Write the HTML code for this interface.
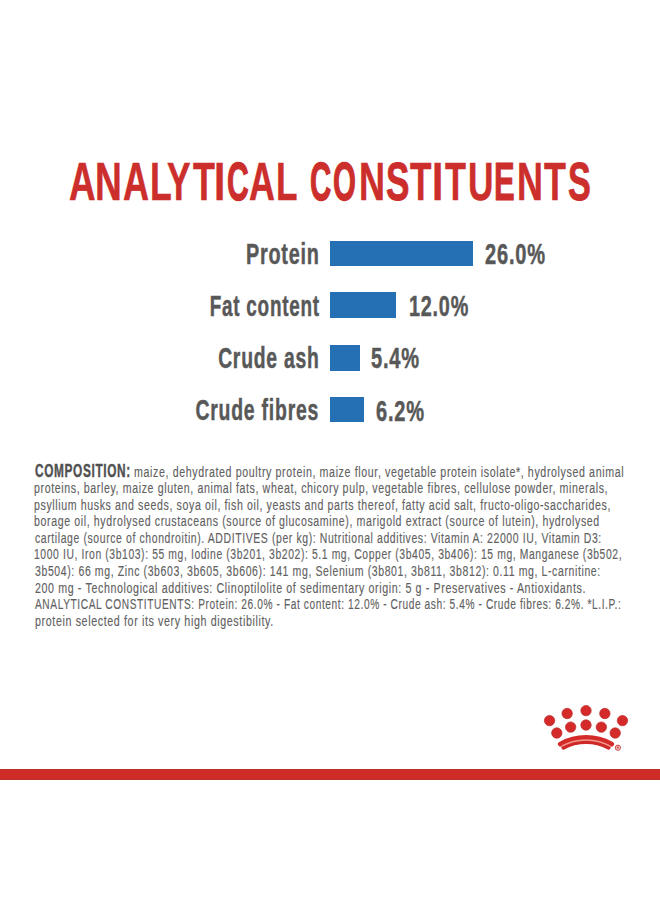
<!DOCTYPE html>
<html>
<head>
<meta charset="utf-8">
<style>
html,body{margin:0;padding:0;background:#fff;}
body{width:660px;height:900px;position:relative;overflow:hidden;font-family:"Liberation Sans",sans-serif;}
.t{position:absolute;white-space:nowrap;line-height:1;}
.s{display:inline-block;transform-origin:0 0;}
.r .s{transform-origin:100% 0;}
.tt,#title{color:#cc2e2c;font-weight:bold;letter-spacing:0px;-webkit-text-stroke:0.5px #cc2e2c;}
.lab{color:#585858;font-weight:bold;font-size:30px;letter-spacing:1.2px;-webkit-text-stroke:0.5px #585858;}
.bar{position:absolute;background:#2570b4;left:330px;}
.comp{color:#616161;font-size:15.5px;letter-spacing:0.9px;-webkit-text-stroke:0.15px #616161;}
#c1a{color:#505050;font-weight:bold;font-size:18px;letter-spacing:1.0px;-webkit-text-stroke:0.4px #505050;}
</style>
</head>
<body>
<div class="t tt" id="tl0" style="left:69.05px;top:154.9px;font-size:53.5px;"><span class="s" style="transform:scaleX(0.6878)">A</span></div>
<div class="t tt" id="tl1" style="left:95.15px;top:154.9px;font-size:53.5px;"><span class="s" style="transform:scaleX(0.6944)">N</span></div>
<div class="t tt" id="tl2" style="left:122.73px;top:154.9px;font-size:53.5px;"><span class="s" style="transform:scaleX(0.6741)">A</span></div>
<div class="t tt" id="tl3" style="left:150.04px;top:154.9px;font-size:53.5px;"><span class="s" style="transform:scaleX(0.6657)">L</span></div>
<div class="t tt" id="tl4" style="left:167.25px;top:154.9px;font-size:53.5px;"><span class="s" style="transform:scaleX(0.6595)">Y</span></div>
<div class="t tt" id="tl5" style="left:192.84px;top:154.9px;font-size:53.5px;"><span class="s" style="transform:scaleX(0.671)">T</span></div>
<div class="t tt" id="tl6" style="left:214.37px;top:154.9px;font-size:53.5px;"><span class="s" style="transform:scaleX(0.761)">I</span></div>
<div class="t tt" id="tl7" style="left:226.61px;top:154.9px;font-size:53.5px;-webkit-text-stroke-width:1.3px;"><span class="s" style="transform:scaleX(0.5615)">C</span></div>
<div class="t tt" id="tl8" style="left:249.33px;top:154.9px;font-size:53.5px;"><span class="s" style="transform:scaleX(0.6707)">A</span></div>
<div class="t tt" id="tl9" style="left:276.45px;top:154.9px;font-size:53.5px;"><span class="s" style="transform:scaleX(0.6584)">L</span></div>
<div class="t tt" id="tl10" style="left:309.74px;top:154.9px;font-size:53.5px;-webkit-text-stroke-width:1.3px;"><span class="s" style="transform:scaleX(0.5491)">C</span></div>
<div class="t tt" id="tl11" style="left:333.35px;top:154.9px;font-size:53.5px;-webkit-text-stroke-width:1.3px;"><span class="s" style="transform:scaleX(0.5507)">O</span></div>
<div class="t tt" id="tl12" style="left:358.58px;top:154.9px;font-size:53.5px;"><span class="s" style="transform:scaleX(0.6724)">N</span></div>
<div class="t tt" id="tl13" style="left:385.77px;top:154.9px;font-size:53.5px;-webkit-text-stroke-width:0.9px;"><span class="s" style="transform:scaleX(0.6567)">S</span></div>
<div class="t tt" id="tl14" style="left:409.64px;top:154.9px;font-size:53.5px;"><span class="s" style="transform:scaleX(0.6567)">T</span></div>
<div class="t tt" id="tl15" style="left:432.17px;top:154.9px;font-size:53.5px;"><span class="s" style="transform:scaleX(0.761)">I</span></div>
<div class="t tt" id="tl16" style="left:444.64px;top:154.9px;font-size:53.5px;"><span class="s" style="transform:scaleX(0.641)">T</span></div>
<div class="t tt" id="tl17" style="left:467.73px;top:154.9px;font-size:53.5px;"><span class="s" style="transform:scaleX(0.6605)">U</span></div>
<div class="t tt" id="tl18" style="left:494.2px;top:154.9px;font-size:53.5px;-webkit-text-stroke-width:1.0px;"><span class="s" style="transform:scaleX(0.5796)">E</span></div>
<div class="t tt" id="tl19" style="left:517.38px;top:154.9px;font-size:53.5px;"><span class="s" style="transform:scaleX(0.6723)">N</span></div>
<div class="t tt" id="tl20" style="left:544.04px;top:154.9px;font-size:53.5px;"><span class="s" style="transform:scaleX(0.671)">T</span></div>
<div class="t tt" id="tl21" style="left:567.52px;top:154.9px;font-size:53.5px;-webkit-text-stroke-width:0.9px;"><span class="s" style="transform:scaleX(0.6386)">S</span></div>
<div class="t lab r" id="l1" style="right:340.5px;top:239.0px;"><span class="s" style="transform:scaleX(0.6602)">Protein</span></div>
<div class="t lab r" id="l2" style="right:340.5px;top:291.0px;"><span class="s" style="transform:scaleX(0.6299)">Fat content</span></div>
<div class="t lab r" id="l3" style="right:340.5px;top:343.0px;"><span class="s" style="transform:scaleX(0.6435)">Crude ash</span></div>
<div class="t lab r" id="l4" style="right:340.5px;top:395.0px;"><span class="s" style="transform:scaleX(0.6468)">Crude fibres</span></div>
<div class="bar" id="b1" style="top:241px;width:143px;height:25px;"></div>
<div class="bar" id="b2" style="top:292px;width:66px;height:26px;"></div>
<div class="bar" id="b3" style="top:345px;width:30px;height:26px;"></div>
<div class="bar" id="b4" style="top:397px;width:34px;height:25px;"></div>
<div class="t lab" id="v1" style="left:485.45px;top:239.0px;"><span class="s" style="transform:scaleX(0.6682)">26.0%</span></div>
<div class="t lab" id="v2" style="left:408.6px;top:291.0px;"><span class="s" style="transform:scaleX(0.6588)">12.0%</span></div>
<div class="t lab" id="v3" style="left:371.24px;top:343.0px;"><span class="s" style="transform:scaleX(0.6677)">5.4%</span></div>
<div class="t lab" id="v4" style="left:375.51px;top:395.5px;"><span class="s" style="transform:scaleX(0.6679)">6.2%</span></div>
<div class="t" id="c1a" style="left:34.59px;top:462px;"><span class="s" style="transform:scaleX(0.6568)">COMPOSITION:</span></div>
<div class="t comp" id="c1" style="left:134.08px;top:463.7px;"><span class="s" style="transform:scaleX(0.687)">maize, dehydrated poultry protein, maize flour, vegetable protein isolate*, hydrolysed animal</span></div>
<div class="t comp" id="c2" style="left:33.96px;top:480.25px;"><span class="s" style="transform:scaleX(0.6845)">proteins, barley, maize gluten, animal fats, wheat, chicory pulp, vegetable fibres, cellulose powder, minerals,</span></div>
<div class="t comp" id="c3" style="left:33.96px;top:496.8px;"><span class="s" style="transform:scaleX(0.6833)">psyllium husks and seeds, soya oil, fish oil, yeasts and parts thereof, fatty acid salt, fructo-oligo-saccharides,</span></div>
<div class="t comp" id="c4" style="left:33.96px;top:513.35px;"><span class="s" style="transform:scaleX(0.6836)">borage oil, hydrolysed crustaceans (source of glucosamine), marigold extract (source of lutein), hydrolysed</span></div>
<div class="t comp" id="c5" style="left:34.91px;top:529.9px;"><span class="s" style="transform:scaleX(0.674)">cartilage (source of chondroitin). ADDITIVES (per kg): Nutritional additives: Vitamin A: 22000 IU, Vitamin D3:</span></div>
<div class="t comp" id="c6" style="left:34.27px;top:546.45px;"><span class="s" style="transform:scaleX(0.6687)">1000 IU, Iron (3b103): 55 mg, Iodine (3b201, 3b202): 5.1 mg, Copper (3b405, 3b406): 15 mg, Manganese (3b502,</span></div>
<div class="t comp" id="c7" style="left:34.52px;top:563.0px;"><span class="s" style="transform:scaleX(0.6777)">3b504): 66 mg, Zinc (3b603, 3b605, 3b606): 141 mg, Selenium (3b801, 3b811, 3b812): 0.11 mg, L-carnitine:</span></div>
<div class="t comp" id="c8" style="left:34.95px;top:579.55px;"><span class="s" style="transform:scaleX(0.6881)">200 mg - Technological additives: Clinoptilolite of sedimentary origin: 5 g - Preservatives - Antioxidants.</span></div>
<div class="t comp" id="c9" style="left:34.99px;top:596.1px;"><span class="s" style="transform:scaleX(0.6554)">ANALYTICAL CONSTITUENTS: Protein: 26.0% - Fat content: 12.0% - Crude ash: 5.4% - Crude fibres: 6.2%. *L.I.P.:</span></div>
<div class="t comp" id="c10" style="left:34.72px;top:612.65px;"><span class="s" style="transform:scaleX(0.6898)">protein selected for its very high digestibility.</span></div>
<svg id="logo" style="position:absolute;left:540px;top:700px;" width="90" height="60" viewBox="0 0 90 60"><circle cx="9.55" cy="20.6" r="5.2" fill="#d42a2a" stroke="#bb2a2a" stroke-width="0.7"/><circle cx="27.15" cy="13.5" r="5.2" fill="#d42a2a" stroke="#bb2a2a" stroke-width="0.7"/><circle cx="46" cy="10.6" r="5.2" fill="#d42a2a" stroke="#bb2a2a" stroke-width="0.7"/><circle cx="64.85" cy="13.5" r="5.2" fill="#d42a2a" stroke="#bb2a2a" stroke-width="0.7"/><circle cx="82.45" cy="20.6" r="5.2" fill="#d42a2a" stroke="#bb2a2a" stroke-width="0.7"/><circle cx="16.8" cy="33" r="5.2" fill="#d42a2a" stroke="#bb2a2a" stroke-width="0.7"/><circle cx="30.65" cy="27.1" r="5.2" fill="#d42a2a" stroke="#bb2a2a" stroke-width="0.7"/><circle cx="46" cy="25" r="5.2" fill="#d42a2a" stroke="#bb2a2a" stroke-width="0.7"/><circle cx="61.35" cy="27.1" r="5.2" fill="#d42a2a" stroke="#bb2a2a" stroke-width="0.7"/><circle cx="75.2" cy="33" r="5.2" fill="#d42a2a" stroke="#bb2a2a" stroke-width="0.7"/><path d="M20.42 44.07A53.1 53.1 0 0 1 71.58 44.07" fill="none" stroke="#d42a2a" stroke-width="5" stroke-linecap="round"/><path d="M23.33 47.61A48.6 48.6 0 0 1 68.67 47.61" fill="none" stroke="#cf2828" stroke-width="4" stroke-linecap="round"/><path d="M21.78 46.17A50.6 50.6 0 0 1 70.22 46.17" fill="none" stroke="#f29888" stroke-width="1.3" stroke-linecap="butt"/><circle cx="77.9" cy="47.7" r="2.6" fill="#f6d0cc" stroke="#c83030" stroke-width="0.9"/><circle cx="77.8" cy="47.6" r="1.0" fill="#c83030"/></svg>
<div id="redline" style="position:absolute;left:0;top:769px;width:660px;height:11px;background:#d02c27;box-shadow:inset 0 1px #b9332c,inset 0 -1px #b9332c;"></div>
</body>
</html>
